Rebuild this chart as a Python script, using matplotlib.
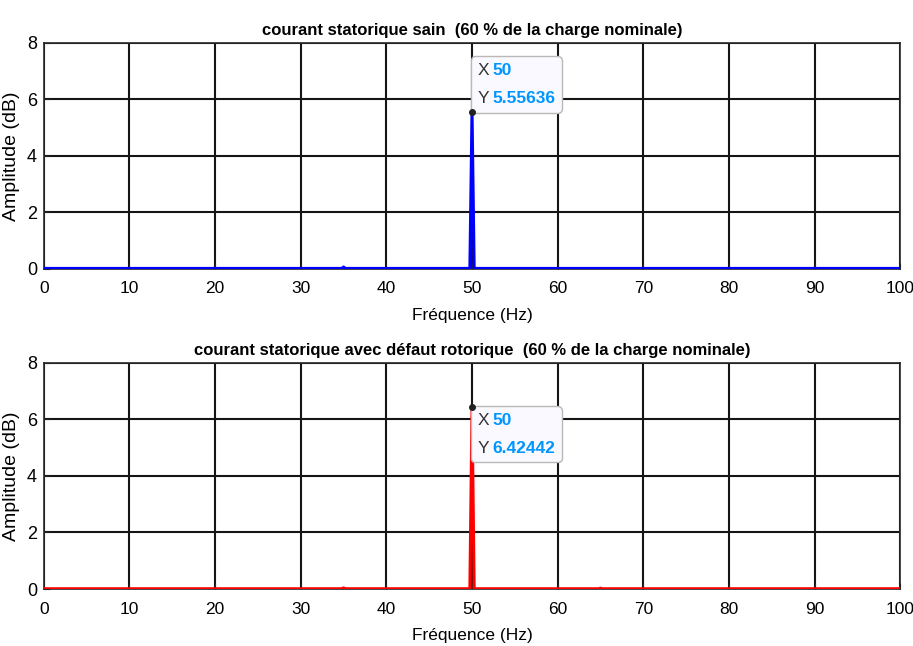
import matplotlib.pyplot as plt
from matplotlib.offsetbox import AnnotationBbox, TextArea, HPacker, VPacker

plt.rcParams['font.family'] = ['Liberation Sans', 'DejaVu Sans']

# spectrum samples (Hz, dB)
freq = [0, 34.8, 35.0, 35.2, 49.75, 50.0, 50.25, 64.8, 65.0, 65.2, 100]
amp_sain = [0.02, 0.02, 0.07, 0.02, 0.02, 5.55636, 0.02, 0.02, 0.02, 0.02, 0.02]
amp_defaut = [0.01, 0.01, 0.04, 0.01, 0.01, 6.42442, 0.01, 0.01, 0.03, 0.01, 0.01]

titles = ['courant statorique sain  (60 % de la charge nominale)',
          'courant statorique avec défaut rotorique  (60 % de la charge nominale)']
colors = ['#0000ff', '#ff0000']
xticks = list(range(0, 101, 10))
yticks = [0, 2, 4, 6, 8]

fig = plt.figure(figsize=(9.13, 6.46), dpi=100)
ax1 = fig.add_axes([0.048, 0.5836, 0.938, 0.350])
ax2 = fig.add_axes([0.048, 0.0882, 0.938, 0.350])


def datatip(ax, x, y, above):
    tp_lab = dict(color='#333333', fontsize=12.5)
    tp_val = dict(color='#0096ff', fontsize=12.5, fontweight='bold')
    row_x = HPacker(children=[TextArea('X', textprops=tp_lab),
                              TextArea(f'{x:g}', textprops=tp_val)],
                    sep=2, align='baseline')
    row_y = HPacker(children=[TextArea('Y', textprops=tp_lab),
                              TextArea(f'{y:g}', textprops=tp_val)],
                    sep=2, align='baseline')
    box = VPacker(children=[row_x, row_y], sep=9, align='left', pad=3)
    ab = AnnotationBbox(box, (x, y), xybox=(1.0, 1.5 if above else -1.0),
                        boxcoords='offset points',
                        box_alignment=(0, 0) if above else (0, 1),
                        frameon=True,
                        bboxprops=dict(boxstyle='round,pad=0.2,rounding_size=0.35',
                                       fc='#f9f9ff', ec='#b8b8b8', lw=1))
    ax.add_artist(ab)
    ax.plot([x], [y], 'o', color='#222222', markersize=4, zorder=5)


for ax, amp, title, col, above in zip([ax1, ax2], [amp_sain, amp_defaut], titles, colors, [True, False]):
    ax.plot(freq, amp, color=col, lw=2.2, zorder=3)
    ax.set_xlim(0, 100)
    ax.set_ylim(0, 8)
    ax.set_xticks(xticks)
    ax.set_yticks(yticks)
    ax.grid(True, color='#151515', lw=1.5)
    ax.set_axisbelow(True)
    for s in ax.spines.values():
        s.set_color('#262626')
        s.set_linewidth(1.2)
    ax.tick_params(axis='x', labelsize=12.5, direction='in', length=4, color='#262626', pad=9)
    ax.tick_params(axis='y', labelsize=13, direction='in', length=4, color='#262626', pad=5)
    ax.set_xlabel('Fréquence (Hz)', fontsize=12.5, labelpad=8)
    ax.set_ylabel('Amplitude (dB)', fontsize=14, labelpad=5)
    ax.set_title(title, fontsize=12, fontweight='bold', pad=6)
    i = amp.index(max(amp))
    datatip(ax, freq[i], amp[i], above)

fig.savefig('out.png', dpi=100)
